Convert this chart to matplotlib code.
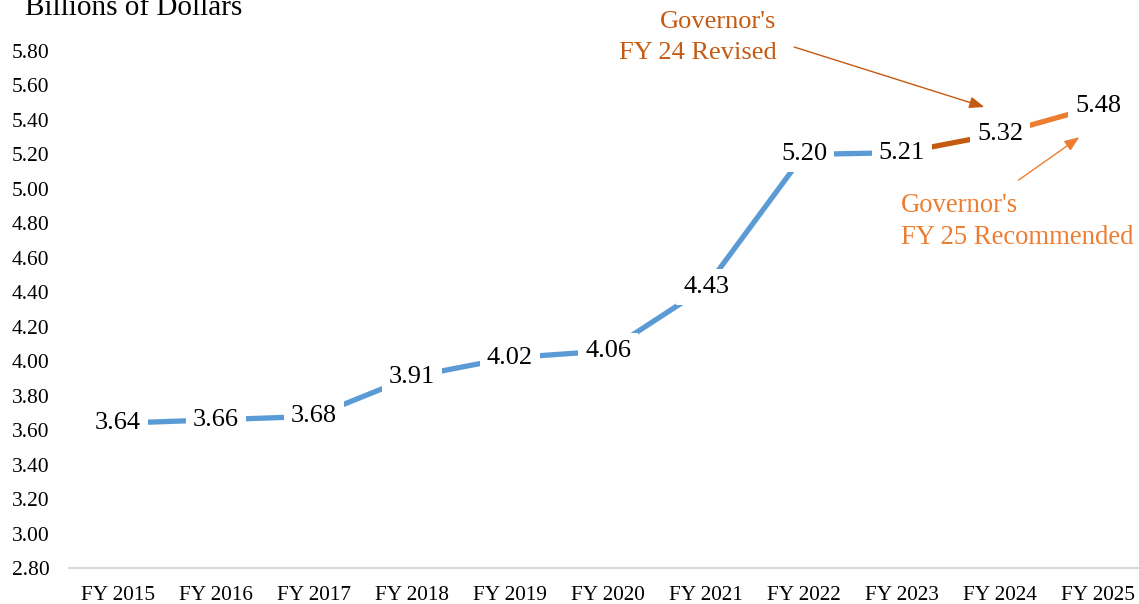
import numpy as np
import matplotlib.pyplot as plt

plt.rcParams.update({"font.family": ["Liberation Serif", "DejaVu Serif"]})

years = ["FY 2015", "FY 2016", "FY 2017", "FY 2018", "FY 2019", "FY 2020",
         "FY 2021", "FY 2022", "FY 2023", "FY 2024", "FY 2025"]
values = [3.64, 3.66, 3.68, 3.91, 4.02, 4.06, 4.43, 5.20, 5.21, 5.32, 5.48]
y_ticks = np.arange(2.80, 5.81, 0.20)

blue = "#5B9BD5"
dark_orange = "#C55A11"
light_orange = "#ED7D31"

W, H = 1139, 604
fig = plt.figure(figsize=(W / 100, H / 100), dpi=100)
ax = fig.add_axes([69 / W, 36 / H, 1078 / W, 517 / H])

x = np.arange(len(years))
ax.plot(x[:9], values[:9], color=blue, linewidth=3.8, solid_capstyle="butt", zorder=2)
ax.plot(x[8:10], values[8:10], color=dark_orange, linewidth=3.8, solid_capstyle="butt", zorder=2)
ax.plot(x[9:11], values[9:11], color=light_orange, linewidth=3.8, solid_capstyle="butt", zorder=2)

for xi, v in zip(x, values):
    ax.text(xi, v, f"{v:.2f}", ha="center", va="center", fontsize=19,
            bbox=dict(boxstyle="square,pad=0.25", fc="white", ec="none"), zorder=3)

ax.set_xlim(-0.5, len(years) - 0.5)
ax.set_ylim(2.80, 5.80)
ax.set_yticks(y_ticks)
ax.set_yticklabels([f"{t:.2f}" for t in y_ticks], fontsize=15.5)
ax.set_xticks(x)
ax.set_xticklabels(years, fontsize=15.3)
ax.tick_params(axis="y", length=0, pad=14)
ax.tick_params(axis="x", length=0, pad=13)
for s in ["top", "right", "left"]:
    ax.spines[s].set_visible(False)
ax.spines["bottom"].set_color("#D9D9D9")
ax.spines["bottom"].set_linewidth(1.5)

# annotations
ax.annotate("", xy=(8.84, 5.475), xytext=(6.90, 5.823),
            arrowprops=dict(arrowstyle="-|>,head_length=0.9,head_width=0.35",
                            color=dark_orange, lw=1.0, shrinkA=0, shrinkB=0),
            annotation_clip=False)
ax.text(6.72, 5.877, "Governor's\nFY 24 Revised", ha="right", va="center",
        fontsize=19, color=dark_orange, linespacing=1.5, clip_on=False)

ax.annotate("", xy=(9.81, 5.30), xytext=(9.19, 5.051),
            arrowprops=dict(arrowstyle="-|>,head_length=0.9,head_width=0.35",
                            color=light_orange, lw=1.0, shrinkA=0, shrinkB=0),
            annotation_clip=False)
ax.text(7.99, 4.81, "Governor's\nFY 25 Recommended", ha="left", va="center",
        fontsize=19.2, color=light_orange, linespacing=1.35, clip_on=False)

fig.text(25 / W, 1 - 15 / H, "Billions of Dollars", ha="left", va="baseline", fontsize=21)

fig.savefig("out.png", dpi=100)
